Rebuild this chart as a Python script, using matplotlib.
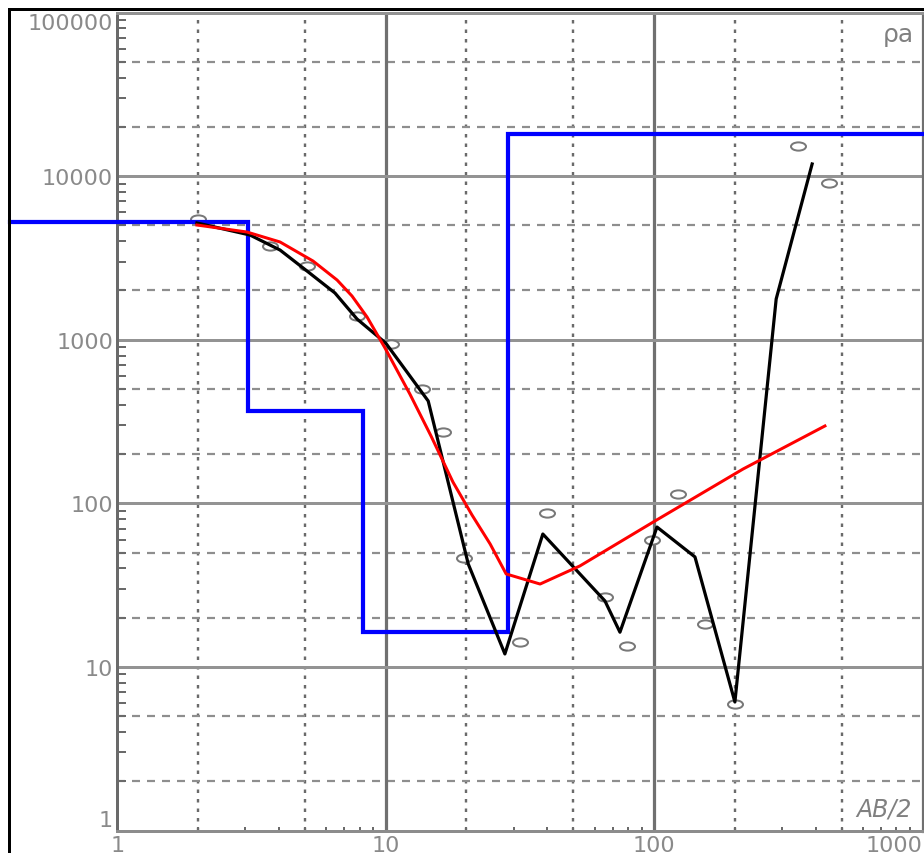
import numpy as np
import matplotlib
matplotlib.use("Agg")
import matplotlib.pyplot as plt
from matplotlib.path import Path
from matplotlib.transforms import Affine2D
from matplotlib.markers import MarkerStyle
from matplotlib.lines import Line2D

# Observed apparent resistivity (open markers)
obs_ab2 = [2.0, 3.7, 5.1, 7.8, 10.5, 13.6, 16.4, 19.6, 31.6, 39.8, 65.6, 79.3,
           98.3, 123, 155, 200, 343, 448]
obs_rho = [5450, 3755, 2833, 1402, 942, 499, 273, 46.3, 14.2, 86.9, 26.8, 13.4,
           59.7, 114, 18.3, 5.93, 15170, 9076]

# Field sounding curve (black)
field_ab2 = [1.98, 3.12, 4.04, 5.09, 6.47, 7.82, 10.0, 12.0, 14.4, 20.3, 27.8,
             38.5, 65.6, 74.6, 102.5, 142, 200, 285, 388]
field_rho = [5170, 4365, 3532, 2630, 1930, 1338, 954, 635, 422, 42.6, 12.0,
             64.9, 25.3, 16.3, 71.6, 47.0, 6.1, 1774, 11860]

# Calculated response curve (red)
model_ab2 = [1.98, 3.04, 4.04, 5.36, 6.59, 7.49, 8.52, 9.94, 12.3, 14.75, 17.8,
             20.97, 24.5, 28.1, 37.6, 52.9, 100.8, 214.5, 433]
model_rho = [5024, 4552, 3956, 3027, 2316, 1849, 1377, 890, 466, 258, 135,
             84.8, 56.4, 37.0, 32.1, 41.4, 78.0, 162, 297]

# Layered earth model (blue): resistivities and layer bottoms
layer_rho = [5240, 365, 16.3, 18000]
layer_depth = [3.07, 8.25, 28.6]
model_extent = [0.4, 1010]

x_ticks = [1, 10, 100, 1000]
x_labels = ["1", "10", "100", "1000"]
y_ticks = [1, 10, 100, 1000, 10000, 100000]
y_labels = ["1", "10", "100", "1000", "10000", "100000"]

W, H, DPI = 924, 854, 100
PX = 72.0 / DPI  # points per pixel

plt.rcParams["font.family"] = ["DejaVu Sans"]
plt.rcParams["lines.scale_dashes"] = False

fig = plt.figure(figsize=(W / DPI, H / DPI), dpi=DPI)
fig.patch.set_facecolor("white")

left, right, top, bottom = 117.3, 922.5, 13.5, 831.5
ax = fig.add_axes([left / W, (H - bottom) / H, (right - left) / W, (bottom - top) / H])
ax.set_xscale("log")
ax.set_yscale("log")
ax.set_xlim(1, 1000)
ax.set_ylim(1, 100000)

# grid: solid at decades, dotted verticals and dashed horizontals at 2 and 5
for d in [1, 10, 100]:
    for s in (2, 5):
        ax.axvline(d * s, color="#6a6a6a", lw=2.4 * PX,
                   ls=(0, (3.5 * PX, 6 * PX)), zorder=1)
for d in [1, 10, 100, 1000, 10000]:
    for s in (2, 5):
        ax.axhline(d * s, color="#8e8e8e", lw=2.2 * PX,
                   ls=(0, (8 * PX, 7 * PX)), zorder=1)
for v in x_ticks[1:-1]:
    ax.axvline(v, color="#707070", lw=3.2 * PX, zorder=1.2)
for v in y_ticks[1:-1]:
    ax.axhline(v, color="#939393", lw=3.0 * PX, zorder=1.2)

for side, col, lw in [("left", "#6a6a6a", 3.0), ("bottom", "#8c8c8c", 3.0),
                      ("top", "#939393", 3.0), ("right", "#707070", 3.2)]:
    ax.spines[side].set_color(col)
    ax.spines[side].set_linewidth(lw * PX)

ax.set_xticks(x_ticks)
ax.set_xticklabels(x_labels)
ax.set_yticks(y_ticks)
ax.set_yticklabels(y_labels)
minor_subs = np.arange(2, 10)
ax.xaxis.set_minor_locator(matplotlib.ticker.LogLocator(base=10, subs=minor_subs))
ax.yaxis.set_minor_locator(matplotlib.ticker.LogLocator(base=10, subs=minor_subs))
ax.xaxis.set_minor_formatter(matplotlib.ticker.NullFormatter())
ax.yaxis.set_minor_formatter(matplotlib.ticker.NullFormatter())
ax.tick_params(which="major", length=0, labelsize=16, labelcolor="#8a8a8a")
ax.tick_params(axis="y", which="major", pad=3)
ax.tick_params(axis="x", which="major", pad=3)
ax.tick_params(axis="y", which="minor", direction="in", length=9 * PX,
               width=2 * PX, color="#6a6a6a")
ax.tick_params(axis="x", which="minor", direction="in", length=4 * PX,
               width=2 * PX, color="#6a6a6a")

fig.canvas.draw()
ylabs = ax.get_yticklabels()
ylabs[-1].set_verticalalignment("top")
ylabs[0].set_verticalalignment("bottom")
xlabs = ax.get_xticklabels()
xlabs[-1].set_horizontalalignment("right")

# observed points as open ellipses
ell = Path.unit_circle().transformed(Affine2D().scale(1.0, 0.55))
ax.plot(obs_ab2, obs_rho, ls="none", marker=MarkerStyle(ell),
        markersize=15 * PX, markerfacecolor="white", markeredgecolor="#787878",
        markeredgewidth=2.0 * PX, zorder=3)

# layered model as a step line
step_x = [model_extent[0]]
step_y = [layer_rho[0]]
for i, dep in enumerate(layer_depth):
    step_x += [dep, dep]
    step_y += [layer_rho[i], layer_rho[i + 1]]
step_x.append(model_extent[1])
step_y.append(layer_rho[-1])
ax.plot(step_x, step_y, color="#0000ff", lw=4.2 * PX, zorder=4,
        solid_joinstyle="miter", clip_on=False)

ax.plot(field_ab2, field_rho, color="black", lw=3.2 * PX, zorder=5)
ax.plot(model_ab2, model_rho, color="#ff0000", lw=3.0 * PX, zorder=6,
        solid_joinstyle="round")

fig.text(883 / W, 1 - 35 / H, "ρa", color="#808080", fontsize=18,
         ha="left", va="center")
fig.text(856 / W, 1 - 810 / H, "AB/2", color="#808080", fontsize=17,
         style="italic", ha="left", va="center")

# outer frame
fig.add_artist(Line2D([9 / W, 1.0], [1 - 10 / H, 1 - 10 / H],
                      transform=fig.transFigure, color="black", lw=3 * PX))
fig.add_artist(Line2D([9 / W, 9 / W], [0.0, 1 - 10 / H],
                      transform=fig.transFigure, color="black", lw=3 * PX))

fig.savefig("out.png", dpi=DPI)
